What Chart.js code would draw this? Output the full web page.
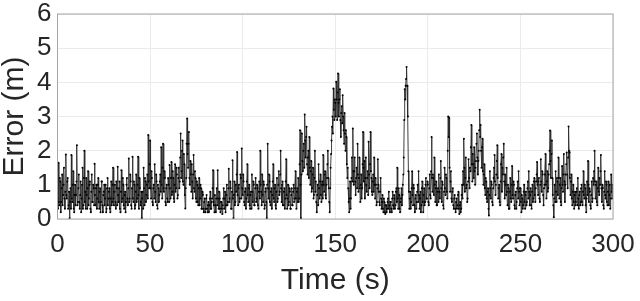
<!DOCTYPE html>
<html>
<head>
<meta charset="utf-8">
<script src="https://cdn.jsdelivr.net/npm/chart.js@4.4.1/dist/chart.umd.min.js"></script>
<style>
  html, body { margin: 0; padding: 0; background: #ffffff; }
  #wrap { width: 640px; height: 301px; }
</style>
</head>
<body>
<div id="wrap"><canvas id="errorChart" width="640" height="301"></canvas></div>
<script>
const xTicks = [0, 50, 100, 150, 200, 250, 300];
const yTicks = [0, 1, 2, 3, 4, 5, 6];
const timeStep = 0.25;

// error (m), one row per 10 s, sampled every 0.25 s
const errorValues = [
  0.6,0.3, 1.65,0.5, 0.4,1.2, 1.1,0.2, 0.5,0.9, 1.3,0.4, 0.7,1.0, 1.5,0.6, 0.3,0.8, 1.89,0.7, 0.6,1.1, 1.2,0.3, 0.4,0.8, 0.02,0.5, 0.9,0.3, 1.87,0.6, 0.5,1.0, 1.4,0.3, 0.2,0.7, 1.0,0.4,
  0.7,1.1, 2.16,0.4, 0.5,0.9, 1.3,0.5, 0.3,0.7, 1.1,0.2, 0.6,1.0, 1.5,0.3, 0.4,1.2, 2.0,0.5, 0.8,0.3, 1.2,0.7, 0.3,0.9, 1.4,0.4, 0.6,1.0, 1.1,0.3, 0.2,0.8, 1.3,0.5, 0.5,1.0, 0.9,0.4,
  1.62,0.7, 0.4,0.9, 1.0,0.3, 0.6,1.0, 1.2,0.5, 0.3,0.8, 0.9,0.2, 0.5,1.1, 1.1,0.4, 0.2,0.7, 0.8,1.0, 0.4,0.6, 1.0,0.2, 0.3,0.9, 1.2,0.4, 0.6,0.8, 0.9,0.3, 0.2,0.6, 1.1,0.4, 0.5,1.0,
  1.5,0.6, 0.4,0.8, 1.0,0.5, 0.3,1.1, 0.9,0.4, 1.53,0.7, 0.5,0.9, 1.1,0.3, 0.2,0.8, 1.43,0.5, 0.6,1.2, 1.0,0.4, 0.3,0.7, 0.8,0.2, 0.5,1.0, 1.2,0.6, 0.4,0.9, 1.77,0.5, 0.6,1.3, 1.1,0.4,
  0.3,0.9, 1.82,0.6, 0.5,1.1, 1.0,0.3, 0.4,0.8, 1.3,0.5, 0.6,1.0, 1.82,0.7, 0.3,1.2, 0.9,0.4, 0.5,0.8, 0.02,0.6, 0.8,0.3, 1.5,0.9, 0.4,1.2, 1.1,0.5, 0.7,1.0, 1.3,0.6, 2.46,1.1, 0.9,1.6,
  2.3,0.9, 0.6,1.4, 1.2,0.5, 0.4,0.9, 1.0,0.6, 1.6,0.8, 0.5,1.3, 1.1,0.4, 0.3,1.0, 0.9,0.5, 0.7,1.1, 1.3,0.8, 2.1,1.0, 0.6,1.5, 2.2,0.9, 0.8,1.4, 1.2,0.5, 0.4,0.9, 1.0,0.6, 0.5,1.2,
  1.0,0.5, 1.58,0.9, 0.6,1.2, 1.67,0.7, 0.8,1.4, 1.2,0.6, 0.5,1.0, 1.6,0.8, 0.9,1.5, 1.3,0.6, 0.7,1.2, 1.5,0.9, 1.1,1.8, 2.5,1.2, 1.4,2.0, 2.3,1.1, 1.0,1.9, 1.6,0.7, 0.31,0.9, 1.2,2.2,
  2.94,1.9, 1.5,2.2, 2.55,1.2, 1.0,1.7, 1.3,0.8, 1.6,1.1, 0.6,1.3, 1.87,0.9, 0.8,1.4, 1.2,0.6, 0.5,1.1, 1.0,0.5, 0.4,0.9, 1.2,0.4, 0.6,1.0, 0.9,0.3, 0.3,0.8, 0.7,0.3, 0.2,0.5, 0.6,0.2,
  0.3,0.6, 0.7,0.3, 0.2,0.4, 0.5,0.2, 0.4,0.6, 0.8,0.3, 0.3,0.5, 0.6,0.9, 1.43,0.5, 0.4,0.2, 0.7,0.4, 0.2,0.6, 0.9,0.4, 1.43,0.6, 0.3,0.8, 0.6,0.3, 0.2,0.5, 0.5,0.3, 0.15,0.4, 0.6,0.9,
  0.3,0.6, 0.8,0.2, 0.4,0.7, 1.0,0.4, 0.5,0.9, 1.47,0.5, 0.6,1.1, 0.9,0.3, 0.3,0.8, 1.72,0.6, 0.02,0.7, 1.1,0.4, 0.5,1.0, 0.8,1.3, 1.96,0.7, 0.4,0.9, 1.0,0.5, 0.6,1.3, 1.2,0.6, 2.06,0.9,
  0.7,1.3, 1.1,0.5, 0.4,0.8, 0.9,0.3, 0.6,1.1, 1.6,0.7, 0.5,0.9, 1.0,0.4, 0.3,0.7, 0.8,0.3, 1.3,0.8, 0.5,1.1, 1.0,0.4, 0.4,0.9, 1.2,0.5, 0.6,1.0, 0.9,0.4, 0.3,0.8, 1.1,0.6, 2.0,1.0,
  0.8,0.4, 1.3,0.7, 0.5,1.1, 1.0,0.3, 0.4,0.8, 0.9,0.5, 0.02,1.0, 2.2,0.9, 0.6,1.3, 1.1,0.5, 0.4,0.8, 0.9,0.3, 0.7,1.1, 1.6,0.6, 0.5,0.9, 1.0,0.4, 0.3,0.8, 1.2,0.5, 0.6,1.0, 1.4,0.7,
  0.8,1.3, 2.0,0.9, 0.5,1.0, 1.1,0.4, 0.4,0.8, 0.9,0.3, 0.6,1.1, 1.75,0.7, 0.3,0.6, 1.0,0.4, 0.5,0.9, 0.8,0.3, 0.3,0.7, 0.9,0.4, 0.4,0.8, 1.0,0.5, 0.6,0.9, 1.4,0.6, 0.3,0.8, 0.9,0.5,
  1.2,0.5, 0.6,1.6, 2.6,1.0, 0.02,1.3, 2.5,1.7, 1.4,2.0, 2.2,1.5, 3.06,2.3, 1.8,2.4, 2.7,1.6, 1.3,1.8, 2.0,1.2, 2.4,1.5, 1.0,1.4, 1.7,0.8, 0.9,1.3, 1.5,0.6, 0.7,1.2, 2.0,0.8, 1.1,0.5,
  0.2,0.7, 1.0,0.4, 1.6,0.9, 0.6,1.1, 1.3,0.7, 0.5,1.0, 1.1,0.6, 1.87,1.0, 0.8,1.3, 1.4,0.7, 0.6,1.0, 1.2,1.6, 2.0,1.2, 0.9,0.5, 0.2,0.9, 1.5,1.9, 2.3,2.7, 3.0,2.5, 3.82,3.2, 2.9,3.5,
  3.4,3.0, 4.02,3.5, 2.9,3.7, 4.26,3.4, 3.0,3.5, 3.8,2.9, 2.4,3.1, 3.3,2.8, 3.62,3.0, 2.6,2.2, 3.1,2.5, 2.0,2.6, 2.4,1.6, 1.2,1.5, 0.9,0.5, 0.2,0.6, 1.1,0.3, 0.6,1.2, 1.8,1.1, 2.65,1.4,
  1.0,1.4, 1.8,1.1, 0.7,1.2, 1.5,0.9, 2.2,1.3, 0.8,1.2, 1.8,0.9, 0.5,1.0, 1.3,0.6, 0.9,1.6, 2.55,1.5, 1.1,1.7, 0.6,1.2, 1.8,1.0, 0.8,1.2, 1.4,0.7, 2.26,1.3, 0.9,1.6, 2.55,1.4, 1.2,0.8,
  0.7,1.1, 1.3,0.8, 1.8,1.0, 0.6,1.2, 1.0,0.4, 0.5,0.9, 1.75,1.0, 0.8,0.5, 0.4,0.8, 1.2,0.6, 0.3,0.5, 0.7,0.3, 0.2,0.6, 0.5,0.2, 0.15,0.4, 0.4,0.2, 0.3,0.5, 0.6,0.3, 0.8,0.4, 0.2,0.5,
  0.5,0.3, 0.2,0.6, 0.8,0.4, 0.3,0.7, 0.6,0.3, 0.4,0.8, 0.9,0.5, 1.5,0.6, 0.3,0.9, 0.7,0.3, 0.2,0.5, 0.6,0.9, 0.4,0.7, 1.0,1.3, 1.8,2.9, 3.8,3.5, 3.9,4.1, 4.45,3.9, 3.9,3.0, 1.4,0.8,
  0.3,0.6, 0.8,0.3, 0.5,0.9, 1.4,0.7, 0.4,1.0, 0.9,0.4, 0.2,0.6, 0.7,0.3, 0.5,0.8, 1.0,0.5, 1.4,0.7, 0.3,0.6, 0.8,0.2, 0.4,0.9, 1.1,0.5, 0.2,0.7, 0.9,0.4, 0.5,1.0, 1.2,0.6, 0.6,1.1,
  1.0,0.5, 0.4,0.9, 1.3,0.7, 0.6,1.4, 2.4,1.2, 0.8,1.3, 1.2,0.7, 1.8,1.0, 0.5,0.9, 1.1,0.4, 0.4,0.8, 0.9,0.5, 1.3,0.8, 0.6,1.2, 1.7,0.9, 0.5,1.1, 1.0,0.4, 0.3,0.8, 1.5,0.9, 0.7,1.3,
  1.2,0.8, 0.6,2.0, 3.0,2.4, 2.96,1.5, 0.8,1.1, 1.4,0.6, 0.5,0.8, 0.9,0.4, 0.3,0.6, 0.7,0.3, 0.2,0.5, 0.6,0.3, 0.4,0.7, 0.8,0.3, 0.15,0.4, 0.5,0.2, 0.3,0.7, 1.0,0.6, 1.4,1.0, 2.35,1.5,
  0.8,1.2, 1.8,0.9, 1.0,0.5, 0.6,1.1, 1.75,1.2, 0.9,1.5, 1.4,2.1, 2.75,1.6, 1.1,1.9, 1.6,1.2, 2.1,1.4, 1.0,1.5, 1.7,2.2, 2.5,1.8, 1.3,1.7, 2.0,2.6, 3.2,2.4, 2.75,2.0, 1.5,2.1, 2.35,1.4,
  1.0,1.3, 1.6,0.9, 0.7,1.2, 1.1,0.6, 0.5,0.8, 0.9,0.3, 0.1,0.7, 1.4,0.9, 0.6,1.1, 1.0,0.5, 0.4,0.9, 1.2,1.5, 1.87,1.1, 0.7,1.0, 1.3,1.7, 2.16,1.2, 0.6,0.9, 1.0,0.5, 0.4,1.1, 1.6,1.9,
  0.8,1.5, 1.3,1.8, 2.2,1.1, 0.6,1.3, 1.0,0.7, 1.5,0.8, 0.4,1.0, 0.9,0.3, 0.3,0.8, 1.2,0.6, 0.5,1.0, 1.55,0.7, 0.6,1.1, 1.0,0.4, 0.3,0.7, 0.8,0.3, 0.5,0.9, 1.1,0.6, 1.4,0.8, 0.4,0.9,
  0.9,0.5, 0.2,0.7, 0.6,0.3, 0.4,0.8, 1.0,0.5, 0.3,0.7, 0.8,0.4, 0.5,0.9, 1.1,0.6, 1.4,0.8, 0.4,0.7, 0.9,0.4, 0.3,0.8, 1.0,0.5, 0.6,1.1, 1.2,0.7, 0.5,0.9, 1.1,1.3, 1.67,1.0, 0.7,1.1,
  1.2,0.6, 0.5,1.0, 1.75,1.1, 0.8,1.4, 1.3,0.7, 0.4,0.9, 1.0,1.3, 1.9,1.0, 0.6,1.1, 1.4,0.8, 0.9,1.3, 1.6,2.0, 2.59,1.7, 1.2,1.9, 2.3,1.2, 0.7,0.4, 0.05,0.6, 1.0,0.5, 1.4,0.8, 0.5,1.2,
  1.1,0.7, 1.8,1.2, 0.6,1.0, 1.2,0.5, 0.4,0.9, 1.55,1.0, 0.8,1.3, 1.9,1.1, 0.5,1.0, 1.3,1.6, 1.95,1.3, 0.9,1.8, 2.71,2.0, 1.95,1.2, 0.7,1.1, 1.3,0.6, 0.4,0.8, 1.0,0.5, 0.3,0.7, 0.8,0.4,
  0.5,0.8, 0.9,0.4, 1.2,0.6, 0.3,0.7, 0.8,0.4, 0.5,0.9, 1.0,0.5, 0.4,0.8, 1.4,0.7, 0.6,1.0, 0.9,0.4, 0.2,0.6, 1.1,0.7, 1.7,1.0, 0.5,0.9, 0.8,0.4, 0.3,0.7, 1.1,0.5, 0.6,1.2, 1.0,1.4,
  2.0,1.1, 0.6,1.0, 1.1,0.5, 0.4,0.9, 1.5,0.8, 0.7,1.2, 1.0,1.4, 1.87,0.9, 0.5,1.0, 0.9,0.4, 0.3,0.8, 1.4,0.7, 0.6,1.1, 1.0,0.5, 0.4,0.8, 1.1,0.4, 0.7,1.0, 0.3,0.6, 1.3,0.8, 0.6,1.0,
  0.9
];

const points = errorValues.map((v, i) => ({ x: i * timeStep, y: v }));

const textColor = "#262626";
const fontFamily = "'Liberation Sans', Arial, Helvetica, sans-serif";

// box around the plot area, like matlab's "box on"
const boxPlugin = {
  id: "plotBox",
  afterDraw(chart) {
    const { ctx, chartArea } = chart;
    ctx.save();
    ctx.strokeStyle = "#a6a6a6";
    ctx.lineWidth = 1;
    ctx.strokeRect(chartArea.left, chartArea.top, chartArea.right - chartArea.left, chartArea.bottom - chartArea.top);
    ctx.restore();
  }
};

new Chart(document.getElementById("errorChart"), {
  type: "line",
  data: {
    datasets: [
      {
        data: points,
        borderColor: "#2b2b2b",
        borderWidth: 0.9,
        pointRadius: 1,
        pointBackgroundColor: "#000000",
        pointBorderWidth: 0,
        tension: 0
      }
    ]
  },
  options: {
    responsive: false,
    animation: false,
    devicePixelRatio: 1,
    layout: { padding: { top: 14, right: 27, bottom: 0, left: 0 } },
    plugins: { legend: { display: false }, tooltip: { enabled: false } },
    scales: {
      x: {
        type: "linear",
        min: 0,
        max: 300,
        afterBuildTicks: (scale) => { scale.ticks = xTicks.map((v) => ({ value: v })); },
        afterFit: (scale) => {
          scale.height = 82;
          scale.paddingLeft = 0;
          scale.paddingRight = 0;
        },
        grid: { color: "#ebebeb", drawTicks: false },
        border: { display: false },
        ticks: {
          color: textColor,
          padding: 13,
          maxRotation: 0,
          font: { family: fontFamily, size: 26, lineHeight: 1 }
        },
        title: {
          display: true,
          text: "Time (s)",
          color: textColor,
          padding: { top: 0, bottom: 5 },
          font: { family: fontFamily, size: 30, lineHeight: 1 }
        }
      },
      y: {
        min: 0,
        max: 6,
        afterBuildTicks: (scale) => { scale.ticks = yTicks.map((v) => ({ value: v })); },
        afterFit: (scale) => {
          scale.width = 57.5;
          scale.paddingTop = 0;
          scale.paddingBottom = 0;
        },
        grid: { color: "#ebebeb", drawTicks: false },
        border: { display: false },
        ticks: {
          color: textColor,
          padding: 6,
          font: { family: fontFamily, size: 26, lineHeight: 1 }
        },
        title: {
          display: true,
          text: "Error (m)",
          color: textColor,
          padding: { top: 0, bottom: 0 },
          font: { family: fontFamily, size: 30, lineHeight: 1 }
        }
      }
    }
  },
  plugins: [boxPlugin]
});
</script>
</body>
</html>
